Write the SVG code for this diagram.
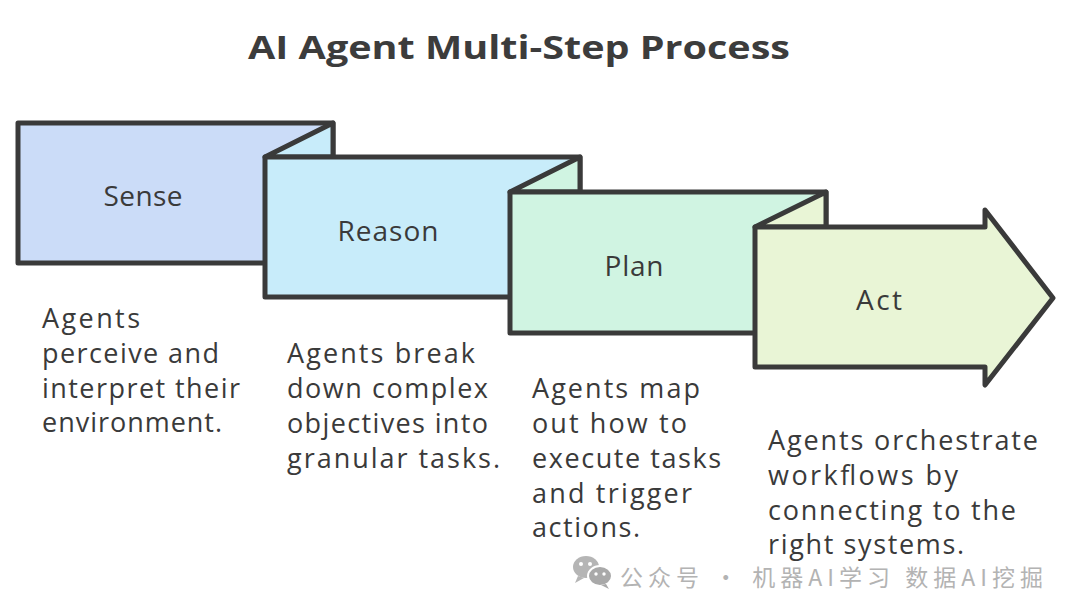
<svg xmlns="http://www.w3.org/2000/svg" width="1080" height="613" viewBox="0 0 1080 613">
<style>
.edge{stroke:#3a3a3a;stroke-width:5;stroke-linejoin:round;stroke-linecap:round}
.lbl{font-family:"Open Sans","Lato",sans-serif;font-size:28px;fill:#3a3a3a;text-anchor:middle}
.desc{font-family:"Open Sans","Lato",sans-serif;font-size:27px;fill:#3a3a3a}
.title{font-family:"Open Sans","Lato",sans-serif;font-size:32px;font-weight:bold;fill:#3c3c3c}
.wm{font-family:"Noto Sans CJK SC",sans-serif;font-size:23px;fill:#b3b3b3}
.sense{fill:#cbdcf8}
.reason{fill:#c8ecfa}
.plan{fill:#d0f4e2}
.act{fill:#e9f5d6}
</style>
<rect width="1080" height="613" fill="#ffffff"/>
<text class="title" x="248" y="59" textLength="542" lengthAdjust="spacingAndGlyphs">AI Agent Multi-Step Process</text>

<g id="sense">
<rect class="sense edge" x="18" y="123" width="315" height="140"/>
<text class="lbl" x="143" y="206" textLength="79">Sense</text>
</g>
<g id="reason">
<polygon class="reason edge" points="333,123 333,157 265,157"/>
<rect class="reason edge" x="265" y="157" width="315" height="140"/>
<text class="lbl" x="388" y="241" textLength="101">Reason</text>
</g>
<g id="plan">
<polygon class="plan edge" points="580,157 580,192 510,192"/>
<rect class="plan edge" x="510" y="192" width="316" height="141"/>
<text class="lbl" x="634" y="276" textLength="59">Plan</text>
</g>
<g id="act">
<polygon class="act edge" points="826,192 826,227 755,227"/>
<polygon class="act edge" points="755,227 985,227 985,210 1053,298 985,385 985,367 755,367"/>
<text class="lbl" x="879" y="310" textLength="46">Act</text>
</g>
<g id="connectors"></g>

<g id="sense-desc">
<text class="desc" x="42" y="328" textLength="98">Agents</text>
<text class="desc" x="42" y="363" textLength="177">perceive and</text>
<text class="desc" x="42" y="398" textLength="198">interpret their</text>
<text class="desc" x="42" y="432" textLength="180">environment.</text>
</g>
<g id="reason-desc">
<text class="desc" x="287" y="363" textLength="188">Agents break</text>
<text class="desc" x="287" y="398" textLength="201">down complex</text>
<text class="desc" x="287" y="433" textLength="201">objectives into</text>
<text class="desc" x="287" y="468" textLength="213">granular tasks.</text>
</g>
<g id="plan-desc">
<text class="desc" x="532" y="398" textLength="168">Agents map</text>
<text class="desc" x="532" y="433" textLength="155">out how to</text>
<text class="desc" x="532" y="468" textLength="189">execute tasks</text>
<text class="desc" x="532" y="503" textLength="160">and trigger</text>
<text class="desc" x="532" y="537" textLength="108">actions.</text>
</g>
<g id="act-desc">
<text class="desc" x="768" y="450" textLength="270">Agents orchestrate</text>
<text class="desc" x="768" y="485" textLength="190">workflows by</text>
<text class="desc" x="768" y="520" textLength="248">connecting to the</text>
<text class="desc" x="768" y="554" textLength="196">right systems.</text>
</g>

<g id="watermark">
<ellipse cx="586" cy="567" rx="13" ry="11" fill="#b5b5b5"/>
<path d="M578,576 L575,583 L584,578 Z" fill="#b5b5b5"/>
<ellipse cx="600" cy="576" rx="12" ry="10" fill="#a9a9a9" stroke="#ffffff" stroke-width="2"/>
<path d="M606,584 L609,589 L601,585 Z" fill="#a9a9a9"/>
<circle cx="581" cy="564" r="2" fill="#ffffff"/>
<circle cx="590" cy="564" r="2" fill="#ffffff"/>
<circle cx="596" cy="574" r="1.7" fill="#ffffff"/>
<circle cx="604" cy="574" r="1.7" fill="#ffffff"/>
<text class="wm" x="620" y="586" textLength="423">公众号 · 机器AI学习 数据AI挖掘</text>
</g>
</svg>
